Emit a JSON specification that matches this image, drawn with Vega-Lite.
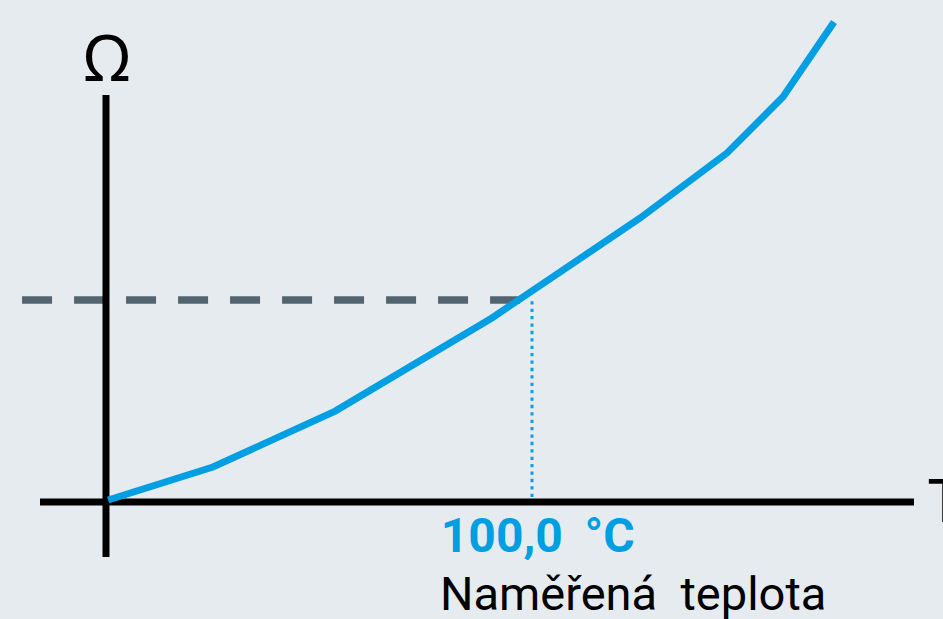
{
  "$schema": "https://vega.github.io/schema/vega-lite/v6.json",
  "width": 943,
  "height": 619,
  "autosize": {"type": "none"},
  "padding": 0,
  "background": "#e6ebef",
  "view": {"stroke": null},
  "datasets": {
    "curve": [
      {"t": 0.5, "r": 1},
      {"t": 25.1, "r": 17.3},
      {"t": 53.8, "r": 45.0},
      {"t": 90.6, "r": 91.1},
      {"t": 125.4, "r": 140.6},
      {"t": 145.8, "r": 172.8},
      {"t": 158.9, "r": 200.5},
      {"t": 170.9, "r": 237.6}
    ],
    "dashed": [{"t": -19.7, "t2": 98.4, "r": 100, "r2": 100}],
    "dotted": [{"t": 100, "t2": 100, "r": 2.5, "r2": 101}],
    "axes": [
      {"name": "T", "t": -15.49, "t2": 189.67, "r": 0, "r2": 0},
      {"name": "Ω", "t": 0, "t2": 0, "r": -27.2, "r2": 201.5}
    ],
    "omega": [{"t": 0.23, "r": 208.4, "label": "Ω"}],
    "tlabel": [{"t": 193.0, "r": -9.9, "label": "T"}],
    "value": [{"t": 78.6, "r": -24.75, "label": "100,0\u00a0\u2009°C"}],
    "caption": [{"t": 78.4, "r": -53.5, "label": "Naměřená\u00a0\u00a0teplota"}]
  },
  "layer": [
    {
      "data": {"name": "dashed"},
      "mark": {"type": "rule", "color": "#52646f", "strokeWidth": 7.5, "strokeDash": [30, 22], "strokeCap": "butt"},
      "encoding": {
        "x": {"field": "t", "type": "quantitative", "axis": null, "scale": {"domain": [-24.88, 196.48], "nice": false, "zero": false}},
        "x2": {"field": "t2"},
        "y": {"field": "r", "type": "quantitative", "axis": null, "scale": {"domain": [-57.92, 248.51], "nice": false, "zero": false}},
        "y2": {"field": "r2"}
      }
    },
    {
      "data": {"name": "dotted"},
      "mark": {"type": "rule", "color": "#0a9fe3", "strokeWidth": 3, "strokeDash": [3.3, 4.1], "strokeCap": "butt"},
      "encoding": {
        "x": {"field": "t", "type": "quantitative", "axis": null, "scale": {"domain": [-24.88, 196.48], "nice": false, "zero": false}},
        "x2": {"field": "t2"},
        "y": {"field": "r", "type": "quantitative", "axis": null, "scale": {"domain": [-57.92, 248.51], "nice": false, "zero": false}},
        "y2": {"field": "r2"}
      }
    },
    {
      "data": {"name": "axes"},
      "mark": {"type": "rule", "color": "#000000", "strokeWidth": 7, "strokeCap": "butt"},
      "encoding": {
        "x": {"field": "t", "type": "quantitative", "axis": null, "scale": {"domain": [-24.88, 196.48], "nice": false, "zero": false}},
        "x2": {"field": "t2"},
        "y": {"field": "r", "type": "quantitative", "axis": null, "scale": {"domain": [-57.92, 248.51], "nice": false, "zero": false}},
        "y2": {"field": "r2"}
      }
    },
    {
      "data": {"name": "curve"},
      "mark": {"type": "line", "color": "#009fe3", "strokeWidth": 7, "strokeCap": "butt", "strokeJoin": "miter"},
      "encoding": {
        "x": {"field": "t", "type": "quantitative", "axis": null, "scale": {"domain": [-24.88, 196.48], "nice": false, "zero": false}},
        "y": {"field": "r", "type": "quantitative", "axis": null, "scale": {"domain": [-57.92, 248.51], "nice": false, "zero": false}},
        "order": {"field": "t", "type": "quantitative"}
      }
    },
    {
      "data": {"name": "omega"},
      "mark": {"type": "text", "font": "Noto Sans", "fontSize": 64, "color": "#000000", "align": "center", "baseline": "alphabetic"},
      "encoding": {
        "x": {"field": "t", "type": "quantitative", "axis": null, "scale": {"domain": [-24.88, 196.48], "nice": false, "zero": false}},
        "y": {"field": "r", "type": "quantitative", "axis": null, "scale": {"domain": [-57.92, 248.51], "nice": false, "zero": false}},
        "text": {"field": "label"}
      }
    },
    {
      "data": {"name": "tlabel"},
      "mark": {"type": "text", "font": "Noto Sans", "fontSize": 60, "color": "#000000", "align": "left", "baseline": "alphabetic"},
      "encoding": {
        "x": {"field": "t", "type": "quantitative", "axis": null, "scale": {"domain": [-24.88, 196.48], "nice": false, "zero": false}},
        "y": {"field": "r", "type": "quantitative", "axis": null, "scale": {"domain": [-57.92, 248.51], "nice": false, "zero": false}},
        "text": {"field": "label"}
      }
    },
    {
      "data": {"name": "value"},
      "mark": {"type": "text", "font": "Roboto", "fontSize": 48, "fontWeight": "bold", "color": "#009fe3", "align": "left", "baseline": "alphabetic"},
      "encoding": {
        "x": {"field": "t", "type": "quantitative", "axis": null, "scale": {"domain": [-24.88, 196.48], "nice": false, "zero": false}},
        "y": {"field": "r", "type": "quantitative", "axis": null, "scale": {"domain": [-57.92, 248.51], "nice": false, "zero": false}},
        "text": {"field": "label"}
      }
    },
    {
      "data": {"name": "caption"},
      "mark": {"type": "text", "font": "Roboto", "fontSize": 47, "color": "#000000", "align": "left", "baseline": "alphabetic"},
      "encoding": {
        "x": {"field": "t", "type": "quantitative", "axis": null, "scale": {"domain": [-24.88, 196.48], "nice": false, "zero": false}},
        "y": {"field": "r", "type": "quantitative", "axis": null, "scale": {"domain": [-57.92, 248.51], "nice": false, "zero": false}},
        "text": {"field": "label"}
      }
    }
  ]
}
